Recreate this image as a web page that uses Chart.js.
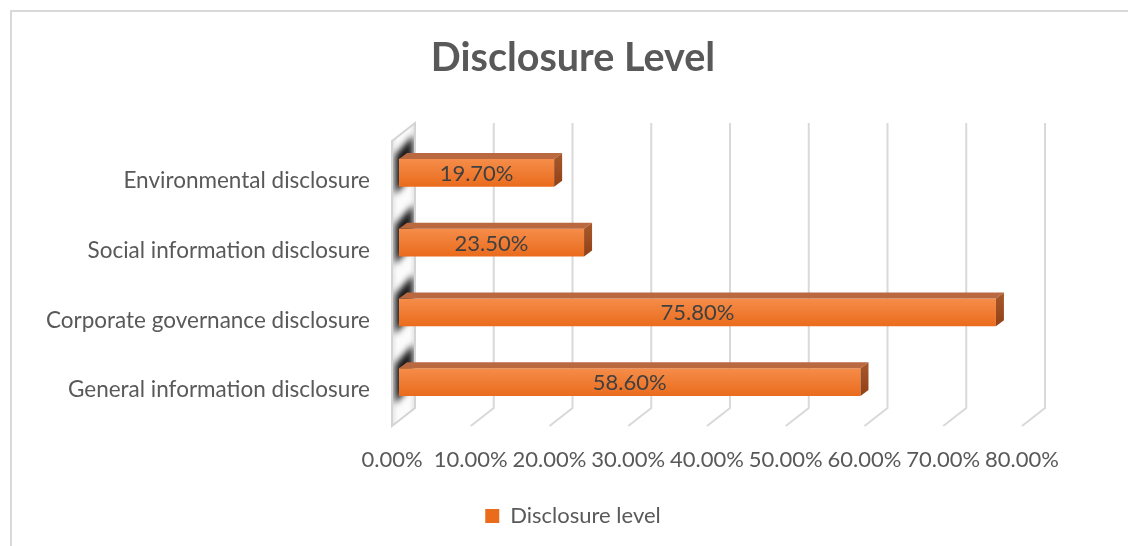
<!DOCTYPE html>
<html>
<head>
<meta charset="utf-8">
<script src="https://cdn.jsdelivr.net/npm/chart.js@4.4.0/dist/chart.umd.min.js"></script>
<style>
  body { margin: 0; background: #fff; overflow: hidden; }
  #frame { position: absolute; left: 10px; top: 10px; width: 1200px; height: 600px; border: 2px solid #d9d9d9; }
  #wrap { position: absolute; left: 0; top: 0; width: 1128px; height: 546px; }
</style>
</head>
<body>
<div id="frame"></div>
<div id="wrap"><canvas id="grafico" width="1128" height="546"></canvas></div>
<script>
// data
const categories = ['Environmental disclosure', 'Social information disclosure', 'Corporate governance disclosure', 'General information disclosure'];
const disclosureValues = [19.7, 23.5, 75.8, 58.6];
const axisTicks = [0, 10, 20, 30, 40, 50, 60, 70, 80];
const seriesName = 'Disclosure level';
const chartTitle = 'Disclosure Level';

const FONT = 'Lato';
const TEXT = '#595959';

// 3D offsets (pixels)
const BAR_DX = 8, BAR_DY = 6;
const BACK_DX = 16, FLOOR_DX = -7;

function backBox(chart) {
    const a = chart.chartArea;
    return { top: a.top - 15, bottom: a.bottom - 9, front: a.bottom + 9 };
}

// grid lines + left wall, drawn behind the bars
const wallAndGrid = {
    id: 'wallAndGrid',
    beforeDatasetsDraw(chart) {
        const ctx = chart.ctx;
        const xs = chart.scales.x;
        const b = backBox(chart);
        const x0 = xs.getPixelForValue(0);
        const wb = x0 + BACK_DX, wf = x0 + FLOOR_DX;
        const dy = b.front - b.bottom;

        ctx.save();
        ctx.strokeStyle = '#d9d9d9';
        ctx.lineWidth = 2;
        xs.ticks.forEach(t => {
            if (t.value === 0) return;
            const px = xs.getPixelForValue(t.value);
            ctx.beginPath();
            ctx.moveTo(px + BACK_DX, b.top);
            ctx.lineTo(px + BACK_DX, b.bottom);
            ctx.lineTo(px + FLOOR_DX, b.front);
            ctx.stroke();
        });

        // left wall
        const wall = new Path2D();
        wall.moveTo(wf, b.top + dy);
        wall.lineTo(wb, b.top);
        wall.lineTo(wb, b.bottom);
        wall.lineTo(wf, b.front);
        wall.closePath();
        const wg = ctx.createLinearGradient(wf, 0, wb, 0);
        wg.addColorStop(0, '#e4e4e4');
        wg.addColorStop(0.25, '#fbfbfb');
        wg.addColorStop(0.75, '#fbfbfb');
        wg.addColorStop(1, '#e4e4e4');
        ctx.fillStyle = wg;
        ctx.fill(wall);

        // bar shadows on the wall
        ctx.save();
        ctx.clip(wall);
        ctx.filter = 'blur(3px)';
        chart.getDatasetMeta(0).data.forEach(el => {
            const { y, height } = el.getProps(['y', 'height'], true);
            const t = y - height / 2, bt = y + height / 2;
            ctx.beginPath();
            ctx.moveTo(wf + 3, t - 4);
            ctx.lineTo(wb - 2, t - 24);
            ctx.lineTo(wb - 2, bt - 12);
            ctx.lineTo(wf + 3, bt + 8);
            ctx.closePath();
            ctx.fillStyle = 'rgba(25,25,25,1)';
            ctx.fill();
        });
        ctx.restore();

        ctx.strokeStyle = '#d4d4d4';
        ctx.stroke(wall);
        ctx.restore();
    }
};

// top and side faces of each bar plus the value labels
const barFaces = {
    id: 'barFaces',
    afterDatasetsDraw(chart) {
        const ctx = chart.ctx;
        const meta = chart.getDatasetMeta(0);
        ctx.save();
        meta.data.forEach((el, i) => {
            const { x, y, base, height } = el.getProps(['x', 'y', 'base', 'height'], true);
            const t = y - height / 2, bt = y + height / 2;

            // top face
            ctx.beginPath();
            ctx.moveTo(base, t);
            ctx.lineTo(base + BAR_DX, t - BAR_DY);
            ctx.lineTo(x + BAR_DX, t - BAR_DY);
            ctx.lineTo(x, t);
            ctx.closePath();
            ctx.fillStyle = '#b9683f';
            ctx.fill();

            // right side face
            const g = ctx.createLinearGradient(0, t - BAR_DY, 0, bt);
            g.addColorStop(0, '#a85a2c');
            g.addColorStop(1, '#924016');
            ctx.beginPath();
            ctx.moveTo(x, t);
            ctx.lineTo(x + BAR_DX, t - BAR_DY);
            ctx.lineTo(x + BAR_DX, bt - BAR_DY);
            ctx.lineTo(x, bt);
            ctx.closePath();
            ctx.fillStyle = g;
            ctx.fill();

            // value label
            ctx.fillStyle = '#404040';
            ctx.font = `22px ${FONT}`;
            ctx.textAlign = 'center';
            ctx.textBaseline = 'middle';
            ctx.fillText(disclosureValues[i].toFixed(2) + '%', (x + base) / 2, y + 1);
        });
        ctx.restore();
    }
};

const ctx = document.getElementById('grafico').getContext('2d');

new Chart(ctx, {
    type: 'bar',
    data: {
        labels: categories,
        datasets: [{
            label: seriesName,
            data: disclosureValues,
            backgroundColor: c => {
                if (c.type !== 'data' || !c.chart.chartArea) return '#ed7d31';
                const yc = c.chart.scales.y.getPixelForValue(c.dataIndex);
                const g = c.chart.ctx.createLinearGradient(0, yc - 14, 0, yc + 14);
                g.addColorStop(0, '#f58d4a');
                g.addColorStop(1, '#ea6b1c');
                return g;
            },
            borderWidth: 0,
            barPercentage: 0.4,
            categoryPercentage: 1,
        }]
    },
    options: {
        indexAxis: 'y',
        responsive: false,
        animation: false,
        layout: { padding: { top: 10, left: 18, right: 0, bottom: 9 } },
        scales: {
            x: {
                min: 0,
                max: 80,
                afterBuildTicks: s => { s.ticks = axisTicks.map(v => ({ value: v })); },
                afterFit: s => { s.height = 78; },
                grid: { display: false },
                border: { display: false },
                ticks: {
                    padding: 22,
                    labelOffset: -7,
                    minRotation: 0,
                    maxRotation: 0,
                    autoSkip: false,
                    color: TEXT,
                    font: { family: FONT, size: 22 },
                    callback: v => Number(v).toFixed(2) + '%',
                },
            },
            y: {
                afterFit: s => { s.width = 381; },
                grid: { display: false },
                border: { display: false },
                ticks: {
                    padding: 21,
                    labelOffset: 8,
                    color: TEXT,
                    font: { family: FONT, size: 22.5 },
                },
            },
            // empty right margin so the plot ends where the reference does
            yRight: {
                type: 'category',
                position: 'right',
                afterFit: s => { s.width = 99; },
                grid: { display: false },
                border: { display: false },
                ticks: { display: false },
            },
        },
        plugins: {
            title: {
                display: true,
                text: chartTitle,
                color: TEXT,
                font: { family: FONT, size: 39.5, weight: 'bold', lineHeight: 1.2 },
                padding: { top: 24.4, bottom: 56.2 },
            },
            legend: {
                position: 'bottom',
                labels: {
                    color: TEXT,
                    font: { family: FONT, size: 22 },
                    boxWidth: 14,
                    boxHeight: 14,
                    padding: 10,
                },
            },
            tooltip: { enabled: false },
        },
    },
    plugins: [wallAndGrid, barFaces],
});
</script>
</body>
</html>
